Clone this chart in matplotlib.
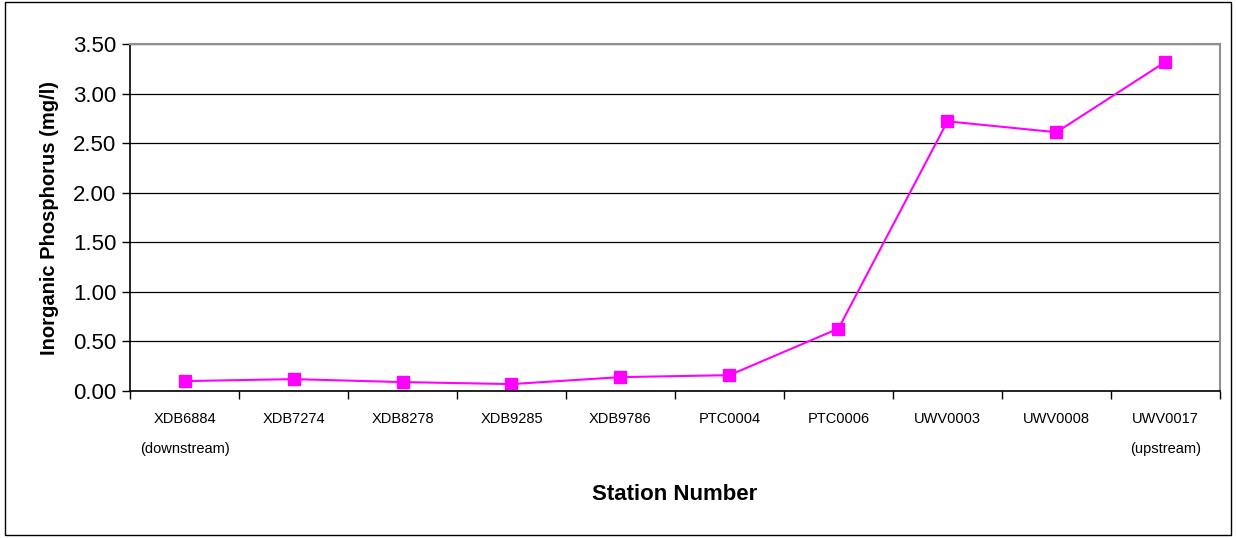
import matplotlib.pyplot as plt
from matplotlib.patches import Rectangle
from matplotlib.ticker import FixedLocator, FormatStrFormatter

plt.rcParams['font.family'] = ['Liberation Sans', 'DejaVu Sans']

stations = ['XDB6884', 'XDB7274', 'XDB8278', 'XDB9285', 'XDB9786',
            'PTC0004', 'PTC0006', 'UWV0003', 'UWV0008', 'UWV0017']
notes = ['(downstream)', '', '', '', '', '', '', '', '', '(upstream)']
phosphorus = [0.10, 0.12, 0.09, 0.07, 0.14, 0.16, 0.63, 2.72, 2.61, 3.32]

fig = plt.figure(figsize=(12.36, 5.38), dpi=100)
ax = fig.add_axes([0.1052, 0.2732, 0.8818, 0.645])

x = list(range(len(stations)))
ax.plot(x, phosphorus, color='#FF00FF', linewidth=1.5, marker='s',
        markersize=9, markerfacecolor='#FF00FF', markeredgecolor='#FF00FF')

ax.set_xlim(-0.5, len(stations) - 0.5)
ax.set_ylim(0, 3.5)
ax.set_yticks([i * 0.5 for i in range(8)])
ax.yaxis.set_major_formatter(FormatStrFormatter('%.2f'))
ax.grid(axis='y', color='black', linewidth=0.9)
ax.set_axisbelow(True)

# category boundaries get the tick marks, labels sit at centers
ax.xaxis.set_major_locator(FixedLocator([i - 0.5 for i in range(len(stations) + 1)]))
ax.xaxis.set_minor_locator(FixedLocator(x))
ax.set_xticklabels([])
labels = [s + ('\n' + n if n else '') for s, n in zip(stations, notes)]
ax.set_xticks(x, labels, minor=True)
ax.tick_params(axis='x', which='minor', length=0, pad=15, labelsize=10.5)
ax.tick_params(axis='x', which='major', length=6, width=1, direction='out')
for t in ax.get_xticklabels(minor=True):
    t.set_linespacing(2.45)
    t.set_verticalalignment('top')
ax.tick_params(axis='y', length=6, width=1, labelsize=16, pad=4)

for side in ['top', 'right']:
    ax.spines[side].set_color('#909090')
    ax.spines[side].set_linewidth(1.5)
for side in ['left', 'bottom']:
    ax.spines[side].set_color('black')
    ax.spines[side].set_linewidth(1.2)

ax.set_xlabel('Station Number', fontsize=16, fontweight='bold', labelpad=20)
ax.set_ylabel('Inorganic Phosphorus (mg/l)', fontsize=14.5, fontweight='bold', labelpad=10)

fig.patches.append(Rectangle((0.004, 0.006), 0.992, 0.99, transform=fig.transFigure,
                             fill=False, edgecolor='black', linewidth=1))

fig.savefig('out.png', dpi=100)
